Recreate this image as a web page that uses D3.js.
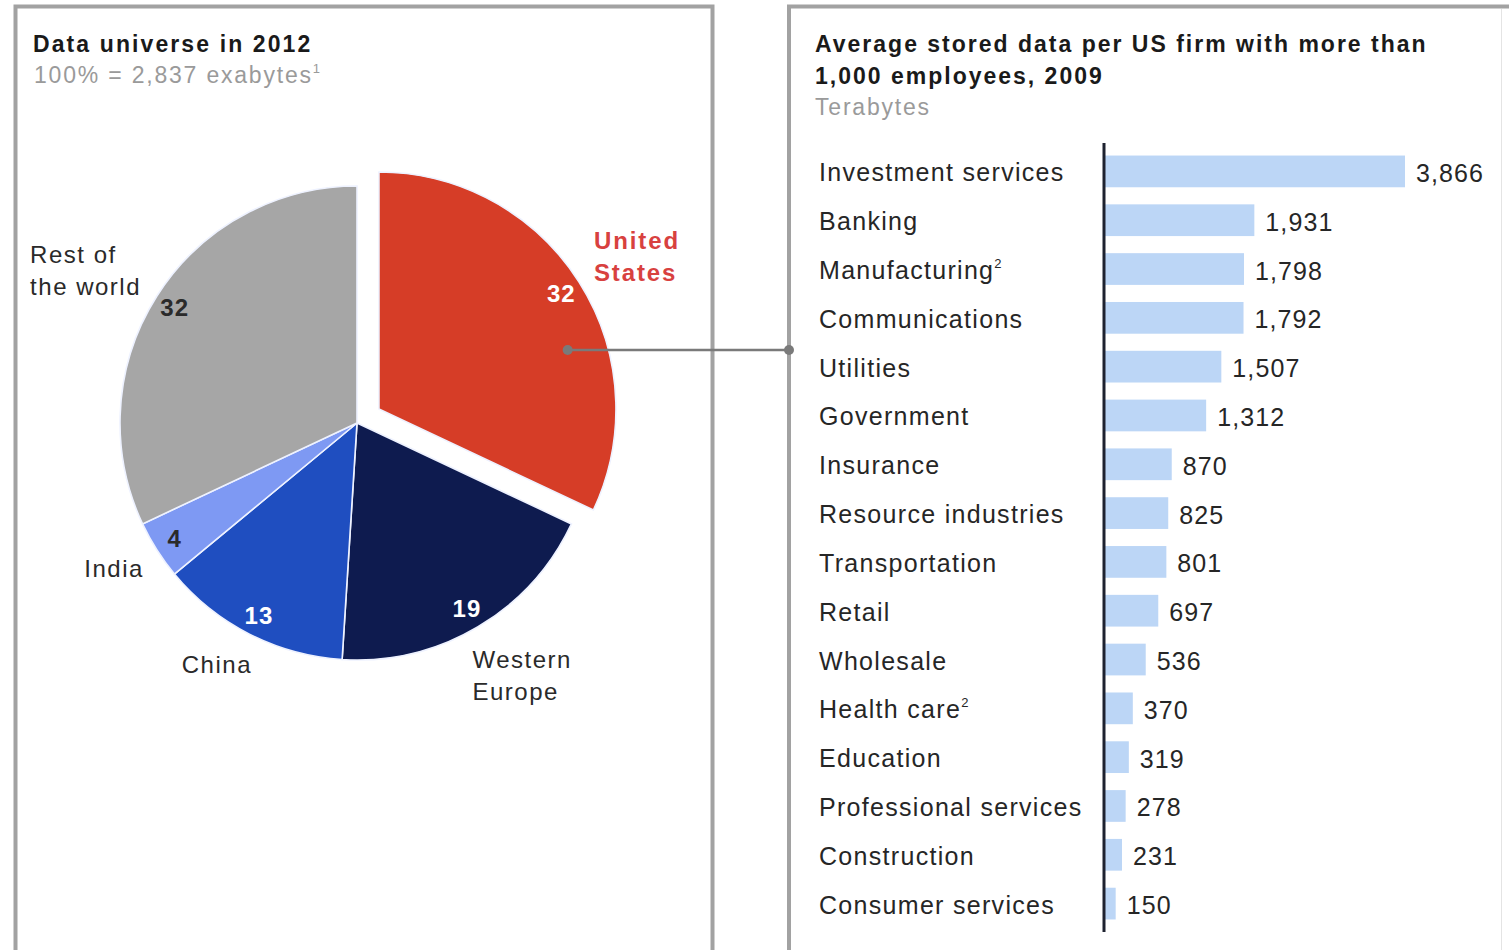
<!DOCTYPE html>
<html>
<head>
<meta charset="utf-8">
<script src="https://cdn.jsdelivr.net/npm/d3@7"></script>
<style>
  html, body { margin: 0; padding: 0; background: #fff; }
  svg { display: block; font-family: "Liberation Sans", Arial, Helvetica, sans-serif; }
</style>
</head>
<body>
<svg id="chart" width="1509" height="950"></svg>
<script>
// Share of the 2012 data universe, by region (%)
const regions = ["United States", "Western Europe", "China", "India", "Rest of the world"];
const regionShares = [32, 19, 13, 4, 32];
const regionColors = ["#d63d27", "#0e1b4f", "#1f4ec0", "#7e99f3", "#a6a6a6"];

// Average stored data per US firm with more than 1,000 employees, 2009 (terabytes)
const industries = [
  "Investment services", "Banking", "Manufacturing", "Communications", "Utilities",
  "Government", "Insurance", "Resource industries", "Transportation", "Retail",
  "Wholesale", "Health care", "Education", "Professional services", "Construction",
  "Consumer services"
];
const industryFootnotes = ["", "", "2", "", "", "", "", "", "", "", "", "2", "", "", "", ""];
const storedTerabytes = [3866, 1931, 1798, 1792, 1507, 1312, 870, 825, 801, 697, 536, 370, 319, 278, 231, 150];

const svg = d3.select("#chart");
const fmt = d3.format(",");

// ---------- panel frames ----------
svg.append("rect").attr("x", 15.5).attr("y", 6.5).attr("width", 697).attr("height", 980)
  .attr("fill", "none").attr("stroke", "#a2a2a2").attr("stroke-width", 4);
svg.append("path").attr("d", "M1520,6.5H789V990")
  .attr("fill", "none").attr("stroke", "#a2a2a2").attr("stroke-width", 4);
svg.append("line").attr("x1", 1501.5).attr("x2", 1501.5).attr("y1", 9).attr("y2", 950)
  .attr("stroke", "#e4e4e4").attr("stroke-width", 1);

// ---------- headings ----------
function heading(x, y, text, opts = {}) {
  const t = svg.append("text").attr("x", x).attr("y", y)
    .attr("font-size", opts.size || 23)
    .attr("font-weight", opts.bold ? "bold" : "normal")
    .attr("fill", opts.color || "#1a1a1a")
    .style("letter-spacing", (opts.spacing != null ? opts.spacing : 2) + "px")
    .text(text);
  if (opts.sup) {
    t.append("tspan").attr("font-size", 13).attr("dy", -10).text(opts.sup);
  }
  return t;
}
heading(33, 52, "Data universe in 2012", { bold: true, spacing: 2.1 });
heading(34, 83, "100% = 2,837 exabytes", { color: "#9a9a9a", spacing: 1.8, sup: "1" });

heading(815, 52, "Average stored data per US firm with more than", { bold: true, spacing: 2.0 });
heading(815, 84, "1,000 employees, 2009", { bold: true, spacing: 2.0 });
heading(815, 115, "Terabytes", { color: "#9a9a9a", spacing: 1.8 });

// ---------- pie ----------
const cx = 357, cy = 423, radius = 237, explode = 26;
const pie = d3.pie().sort(null).value(d => d)(regionShares);
const arc = d3.arc().innerRadius(0).outerRadius(radius);
const polar = (a, r) => [r * Math.sin(a), -r * Math.cos(a)];
const mid = d => (d.startAngle + d.endAngle) / 2;

const pieG = svg.append("g").attr("transform", `translate(${cx},${cy})`);
const sliceG = pieG.selectAll("g.slice").data(pie).join("g")
  .attr("class", "slice")
  .attr("transform", (d, i) => {
    if (i !== 0) return null;
    const [dx, dy] = polar(mid(d), explode);
    return `translate(${dx},${dy})`;
  });

sliceG.append("path")
  .attr("d", arc)
  .attr("fill", (d, i) => regionColors[i])
  .attr("stroke", "#eef2ff")
  .attr("stroke-width", 1.6);

// values inside the slices
const valueColors = ["#ffffff", "#ffffff", "#ffffff", "#2a2a2a", "#2a2a2a"];
sliceG.append("text")
  .attr("x", d => polar(mid(d), 216)[0])
  .attr("y", d => polar(mid(d), 216)[1] + 8.5)
  .attr("text-anchor", "middle")
  .attr("font-size", 24)
  .attr("font-weight", "bold")
  .attr("fill", (d, i) => valueColors[i])
  .style("letter-spacing", "1px")
  .text(d => d.data);

// region names outside the pie: placed on each slice's bisector, then nudged clear of the rim
const outerLabelRadius = [302, 297, 280, 283, 312];
const outerLabelNudge = [[3, 9], [14, -3], [-13, -8], [-4, -6], [-8, 15]];
const outerLabelLines = [["United", "States"], ["Western", "Europe"], ["China"], ["India"], ["Rest of", "the world"]];
sliceG.each(function (d, i) {
  const g = d3.select(this).append("g");
  const lines = outerLabelLines[i];
  lines.forEach((ln, k) => {
    g.append("text")
      .attr("x", 0)
      .attr("y", k * 32)
      .attr("font-size", 24)
      .attr("font-weight", i === 0 ? "bold" : "normal")
      .attr("fill", i === 0 ? "#d8413f" : "#2a2a2a")
      .style("letter-spacing", i === 0 ? "1.9px" : "1.5px")
      .text(ln);
  });
  const bb = g.node().getBBox();
  const [px, py] = polar(mid(d), outerLabelRadius[i]);
  const [nx, ny] = outerLabelNudge[i];
  g.attr("transform", `translate(${px - bb.x - bb.width / 2 + nx},${py - bb.y - bb.height / 2 + ny})`);
});

// connector from the United States slice to the industry breakdown
const us = pie[0];
const [ex, ey] = polar(mid(us), explode);
const [ax, ay] = polar(1.263, 198);
const dotX = cx + ex + ax, dotY = cy + ey + ay + 1;
svg.append("line")
  .attr("x1", dotX).attr("y1", dotY).attr("x2", 789).attr("y2", dotY)
  .attr("stroke", "#7a7a7a").attr("stroke-width", 2.5);
svg.selectAll("circle.conn").data([dotX, 789]).join("circle")
  .attr("class", "conn")
  .attr("cx", d => d).attr("cy", dotY).attr("r", 5)
  .attr("fill", "#7a7a7a");

// ---------- bars ----------
const x = d3.scaleLinear().domain([0, 3866]).range([1104, 1405]);
const y = d3.scaleBand().domain(industries).range([147, 928]).paddingInner(0.35).paddingOuter(0.175);

const rows = industries.map((name, i) => ({ name, value: storedTerabytes[i], note: industryFootnotes[i] }));

svg.append("g").selectAll("rect").data(rows).join("rect")
  .attr("x", x(0))
  .attr("y", d => y(d.name))
  .attr("width", d => x(d.value) - x(0))
  .attr("height", y.bandwidth())
  .attr("fill", "#bcd6f6");

// category axis: a plain vertical rule, labels set to the left margin
const axis = d3.axisLeft(y).tickSize(0).tickFormat("");
const axisG = svg.append("g").attr("transform", `translate(${x(0)},0)`).call(axis);
axisG.select(".domain").attr("d", "M0,143V932").attr("stroke", "#1e2230").attr("stroke-width", 3);

const catLabels = svg.append("g").selectAll("text").data(rows).join("text")
  .attr("x", 819)
  .attr("y", d => y(d.name) + y.bandwidth() / 2 + 10)
  .attr("font-size", 25)
  .attr("fill", "#262626")
  .style("letter-spacing", "1.3px")
  .text(d => d.name);
catLabels.filter(d => d.note).append("tspan")
  .attr("font-size", 13).attr("dy", -11).text(d => d.note);

svg.append("g").selectAll("text").data(rows).join("text")
  .attr("x", d => x(d.value) + 11)
  .attr("y", d => y(d.name) + y.bandwidth() / 2 + 10.5)
  .attr("font-size", 25)
  .attr("fill", "#262626")
  .style("letter-spacing", "1.1px")
  .text(d => fmt(d.value));
</script>
</body>
</html>
